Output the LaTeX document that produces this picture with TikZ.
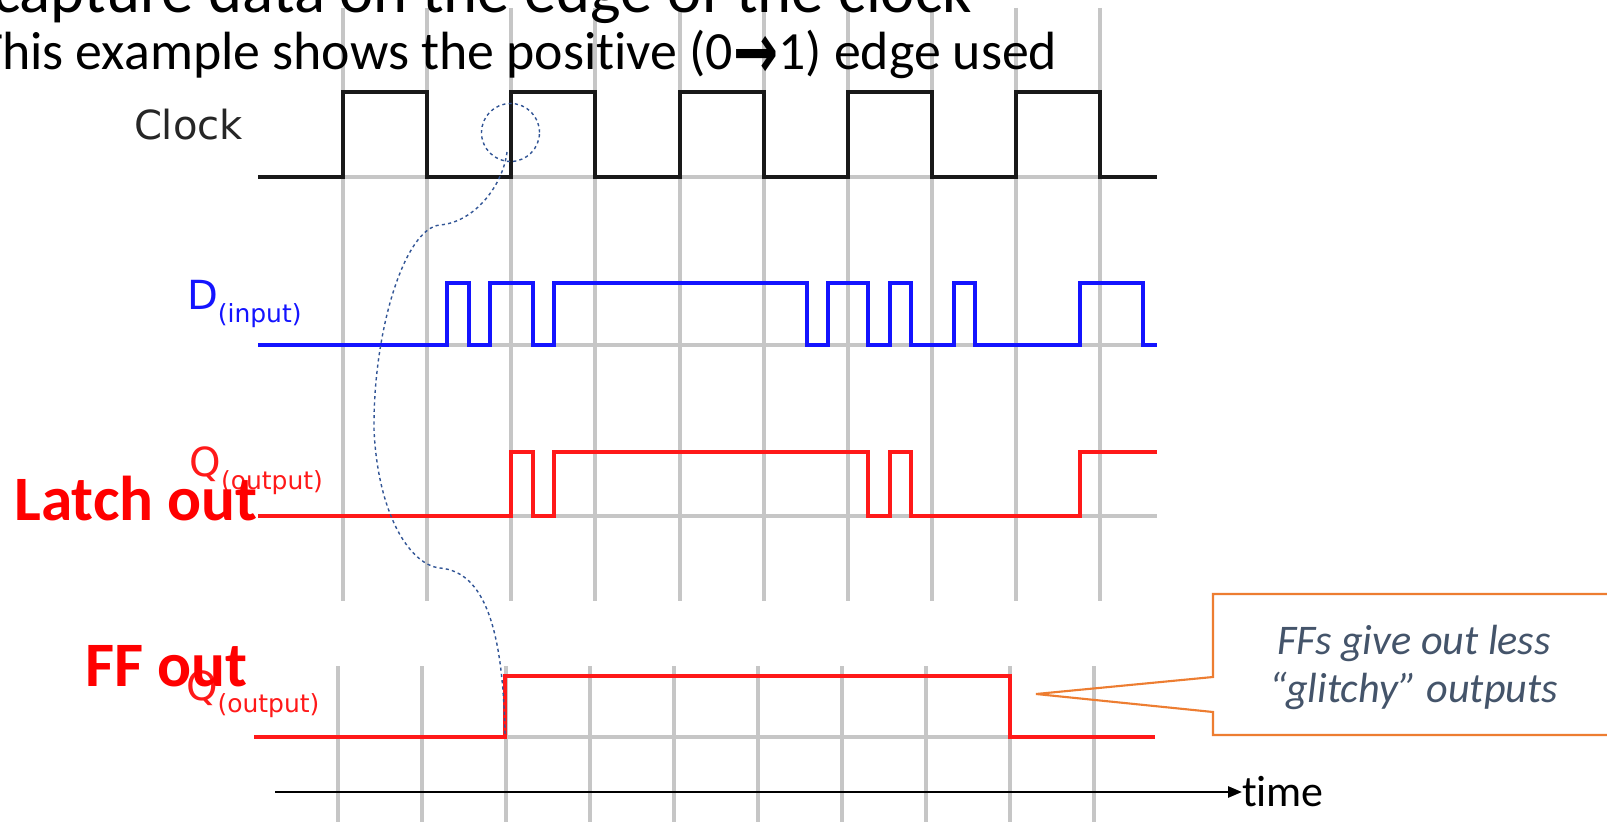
\documentclass[tikz,border=0pt]{standalone}
\usepackage{graphicx}
\usepackage{fontspec}
\setmainfont{Carlito}[Ligatures=NoCommon]
\newfontfamily\sigfont{DejaVu Sans}
\usetikzlibrary{arrows.meta}

\definecolor{gridgray}{RGB}{198,198,198}
\definecolor{sigblue}{RGB}{20,20,255}
\definecolor{sigred}{RGB}{255,25,25}
\definecolor{notered}{RGB}{255,0,0}
\definecolor{calloutorange}{RGB}{237,125,49}
\definecolor{slate}{RGB}{68,84,106}
\definecolor{linkblue}{RGB}{50,85,150}

% signal name with its small subscript
\newcommand{\siglabel}[2]{#1\raisebox{-3.6pt}{\fontsize{7.1}{7.1}\selectfont #2}}

\begin{document}
\begin{tikzpicture}[x=0.01cm, y=-0.01cm,
  every node/.style={inner sep=0pt, outer sep=0pt},
  gridline/.style={gridgray, line width=1.1pt},
  sigline/.style={line width=1.15pt},
  siglbl/.style={anchor=base west, font=\sigfont\fontsize{11.4}{11.4}\selectfont},
  bigred/.style={anchor=base west, text=notered, font=\bfseries\fontsize{18}{18}\selectfont},
  linkdot/.style={linkblue, line width=0.4pt, dash pattern=on 0.9pt off 0.9pt}]
  \useasboundingbox (0,0) rectangle (1607,822);
  \clip (0,0) rectangle (1607,822);
  \fill[white] (0,0) rectangle (1607,822);

  % grid behind the clock / D / latch traces
  \foreach \x in {343,427,511,595,680,764,848,932,1016,1100}
    \draw[gridline] (\x,8) -- (\x,601);
  \foreach \y in {177,345,516}
    \draw[gridline] (258,\y) -- (1157,\y);
  % grid behind the flip-flop trace
  \foreach \x in {338,422,506,590,674,758,842,926,1010,1094}
    \draw[gridline] (\x,666) -- (\x,830);
  \draw[gridline] (254,737) -- (1155,737);

  % traces
  \draw[sigline, black!90] (258,177) -| (343,92) -| (427,177) -| (511,92) -| (595,177) -| (680,92)
    -| (764,177) -| (848,92) -| (932,177) -| (1016,92) -| (1100,177) -- (1157,177);
  \draw[sigline, sigblue] (258,345) -| (447,283) -| (469,345) -| (490,283) -| (533,345) -| (554,283)
    -| (807,345) -| (828,283) -| (868,345) -| (890,283) -| (911,345) -| (954,283) -| (975,345)
    -| (1080,283) -| (1143,345) -- (1157,345);
  \draw[sigline, sigred] (258,516) -| (511,452) -| (533,516) -| (554,452) -| (868,516) -| (890,452)
    -| (911,516) -| (1080,452) -- (1157,452);
  \draw[sigline, sigred] (254,737) -| (505,676) -| (1010,737) -- (1155,737);

  % signal names
  \node[siglbl, text=black!85] (clklbl) at (134,139.5) {Clock};
  \node[siglbl, text=sigblue] (dlbl) at (187,310) {\siglabel{D}{(input)}};
  \node[siglbl, text=sigred] (qlatch) at (189.5,477) {\siglabel{Q}{(output)}};
  \node[siglbl, text=sigred] (qff) at (186,700) {\siglabel{Q}{(output)}};
  \node[bigred] (latchout) at (14.5,520.5) {Latch out};
  \node[bigred] (ffout) at (85.5,686.5) {FF out};

  % heading lines
  \node[anchor=base west, font=\fontsize{18.4}{18.4}\selectfont] (head) at (-7,13)
    {capture data on the edge of the clock};
  \node[anchor=base west, font=\fontsize{15.3}{15.3}\selectfont] (subhead) at (-24,70)
    {This example shows the positive (0{\sigfont\bfseries\raisebox{-2.4pt}{\scalebox{1}[1.45]{→}}}1) edge used};

  % rising edge that the flip-flop samples on
  \node[draw=linkblue, line width=0.4pt, dash pattern=on 0.9pt off 0.9pt, circle,
    minimum size=0.58cm] (edgemark) at (510.5,132.5) {};
  \coordinate (clkedge) at (507,152);
  \coordinate (ffrise) at (505,735);
  \draw[linkdot] (clkedge) .. controls (503,185) and (475,222) .. (440,225)
    .. controls (405,228) and (373,330) .. (374,430)
    .. controls (378,515) and (410,565) .. (440,568)
    .. controls (485,572) and (503,630) .. (ffrise);

  % time axis
  \coordinate (t0) at (275,792);
  \node[anchor=west, font=\fontsize{12.5}{12.5}\selectfont] (timelbl) at (1242,792) {time};
  \draw[line width=0.75pt, -{Triangle[length=0.14cm, width=0.11cm]}] (t0) -- (timelbl.west);

  % callout
  \coordinate (tip) at (1036,694);
  \draw[calloutorange, line width=0.6pt] (1213,677) -- (1213,594) -- (1630,594) -- (1630,735)
    -- (1213,735) -- (1213,712) -- (tip) -- cycle;
  \node[text=slate, font=\itshape\fontsize{12}{13.9}\selectfont, align=center] (glitch)
    at (1414,667.5) {FFs give out less\\“glitchy” outputs};
\end{tikzpicture}
\end{document}
